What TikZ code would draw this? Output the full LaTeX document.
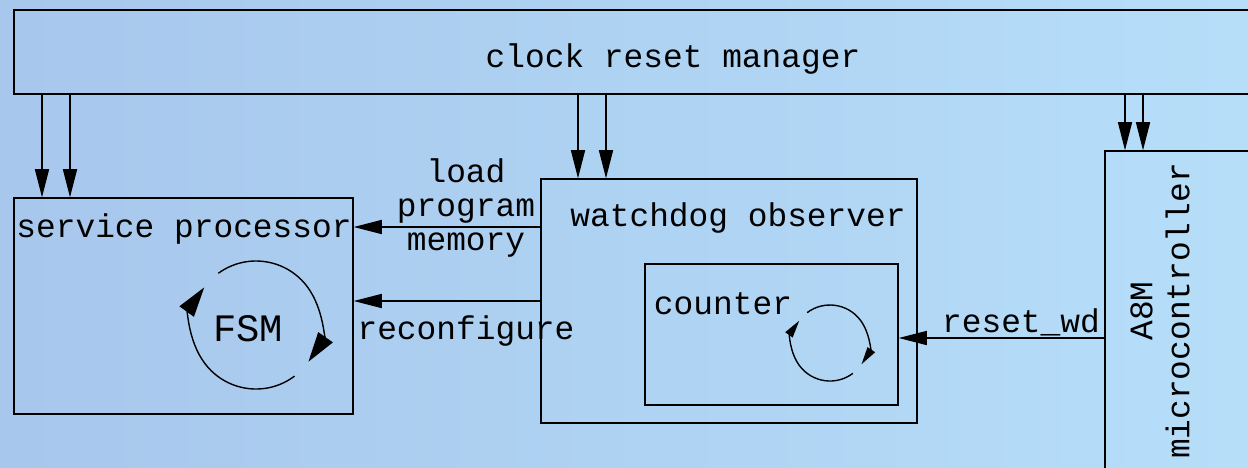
\documentclass[tikz,border=0pt]{standalone}
\usepackage{fontspec}
\setmonofont{Liberation Mono}
\usetikzlibrary{arrows.meta,fit}

\definecolor{bgleft}{RGB}{167,199,236}
\definecolor{bgright}{RGB}{182,222,249}

\tikzset{
  box/.style={draw, line width=0.8pt, inner sep=0pt},
  lbl/.style={font=\ttfamily\fontsize{18.7}{19.6}\selectfont, inner sep=0pt, align=center},
  arr/.style={-{Triangle[length=16pt,width=8pt]}, line width=0.8pt},
  bigloop/.style={-{Triangle[length=17pt,width=10pt]}, line width=0.8pt},
  smallloop/.style={-{Triangle[length=10pt,width=5pt]}, line width=0.8pt},
}

\begin{document}
\begin{tikzpicture}[x=0.02cm,y=-0.02cm]
\useasboundingbox (0,0) rectangle (1248,467);
\shade[left color=bgleft, right color=bgright] (0,0) rectangle (1248,467);
\clip (0,0) rectangle (1248,467);

% boxes
\node[box, fit={(14,10) (1262,94)}] (crm) {};
\node[box, fit={(14,198) (353,414)}] (sp) {};
\node[box, fit={(541,179) (917,423)}] (wd) {};
\node[box, fit={(645,264) (898,405)}] (cnt) {};
\node[box, fit={(1105,151) (1262,480)}] (mcu) {};

% texts
\node[lbl] (crmtext) at (673,59) {clock reset manager};
\node[lbl] (sptext) at (184,229) {service processor};
\node[lbl] (wdtext) at (738,218) {watchdog observer};
\node[lbl] (cnttext) at (723,304) {counter};
\node[lbl, font=\ttfamily\fontsize{22.1}{24}\selectfont] (fsm) at (248,329) {FSM};
\node[lbl, rotate=90, font=\ttfamily\fontsize{18.7}{21}\selectfont] (mcutext) at (1160,311) {A8M\\microcontroller};

% clock and reset lines
\coordinate (s1) at (42,0);
\coordinate (s2) at (70,0);
\coordinate (w1) at (578,0);
\coordinate (w2) at (606,0);
\coordinate (m1) at (1125,0);
\coordinate (m2) at (1143,0);
\draw[arr] (s1 |- crm.south) -- (s1 |- sp.north);
\draw[arr] (s2 |- crm.south) -- (s2 |- sp.north);
\draw[arr] (w1 |- crm.south) -- (w1 |- wd.north);
\draw[arr] (w2 |- crm.south) -- (w2 |- wd.north);
\draw[arr] (m1 |- crm.south) -- (m1 |- mcu.north);
\draw[arr] (m2 |- crm.south) -- (m2 |- mcu.north);

% watchdog to service processor
\coordinate (load) at (0,227);
\coordinate (reconf) at (0,301);
\draw[arr] (load -| wd.west) -- (load -| sp.east);
\node[lbl] (loadtext) at (466,208) {load\\program\\memory};
\draw[arr] (reconf -| wd.west) -- (reconf -| sp.east);
\node[lbl] (reconftext) at (466,331) {reconfigure};

% reset of the counter
\coordinate (rst) at (0,338);
\draw[arr] (rst -| mcu.west) -- (rst -| cnt.east);
\node[lbl] (rsttext) at (1021,322) {reset\_wd};

% loops
\draw[bigloop] (256,325) ++(-126:64) arc[start angle=-126, end angle=35, radius=64];
\draw[bigloop] (256,325) ++(53:64) arc[start angle=53, end angle=216, radius=64];
\draw[smallloop] (830,343) ++(-127:38) arc[start angle=-127, end angle=34, radius=38];
\draw[smallloop] (830,343) ++(53:38) arc[start angle=53, end angle=216, radius=38];
\end{tikzpicture}
\end{document}
